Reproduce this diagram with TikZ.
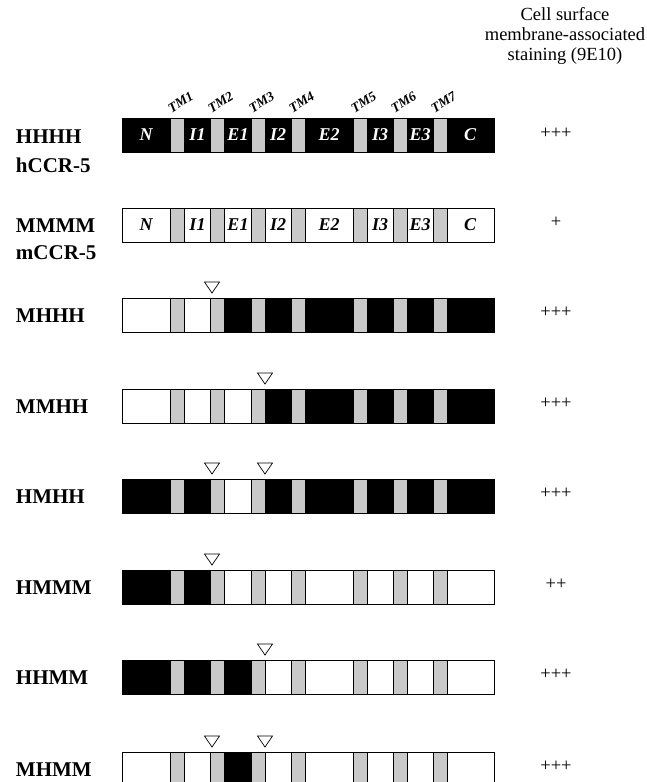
\documentclass[tikz,border=0pt]{standalone}
\usepackage{fontspec}
\setmainfont{Liberation Serif}
\usepackage{tikz}

\tikzset{
  tmbox/.style={fill=black!21, draw=black, line width=0.5pt},
  hbox/.style={fill=black, draw=black, line width=0.6pt},
  mbox/.style={fill=white, draw=black, line width=0.6pt},
  junction/.style={draw=black, fill=white, line width=0.7pt, line join=miter},
  rowlabel/.style={anchor=base west, font=\fontsize{21}{25}\selectfont\bfseries},
  score/.style={anchor=base, font=\fontsize{18.5}{20}\selectfont},
  domlabel/.style={font=\fontsize{18}{20}\selectfont\bfseries\itshape},
  tmlabel/.style={anchor=base west, rotate=32, font=\fontsize{13.5}{15}\selectfont\bfseries\itshape}
}

\begin{document}
\begin{tikzpicture}[x=1pt, y=-1pt, every node/.style={inner sep=0pt, outer sep=0pt}]
  \useasboundingbox (0,0) rectangle (647,782);

  % Header of the staining column
  \node[score] (head1) at (565,20) {Cell surface};
  \node[score] (head2) at (565,40) {membrane-associated};
  \node[score] (head3) at (565,60) {staining (9E10)};

  % Bars: human parts black, mouse parts white
  \draw[hbox] (122,118) rectangle (494,152);      % HHHH
  \draw[mbox] (122,208) rectangle (494,242);      % MMMM
  \draw[mbox] (122,298) rectangle (494,332);      % MHHH
  \fill (225,298) rectangle (494,332);
  \draw[mbox] (122,389) rectangle (494,423);      % MMHH
  \fill (265,389) rectangle (494,423);
  \draw[mbox] (122,479) rectangle (494,513);      % HMHH
  \fill (122,479) rectangle (210,513);
  \fill (265,479) rectangle (494,513);
  \draw[mbox] (122,570) rectangle (494,604);      % HMMM
  \fill (122,570) rectangle (210,604);
  \draw[mbox] (122,660) rectangle (494,694);      % HHMM
  \fill (122,660) rectangle (251,694);
  \draw[mbox] (122,752) rectangle (494,786);      % MHMM
  \fill (225,752) rectangle (251,786);

  % Transmembrane segments
  \foreach \y in {118,208,298,389,479,570,660,752}
    \foreach \a in {170,210,251,291,353,393,433}
      \draw[tmbox] (\a,\y) rectangle ++(14.5,34);

  \foreach \y in {118,208,298,389,479,570,660,752}
    \draw[line width=0.6pt] (122,\y) rectangle ++(372,34);

  % TM labels
  \foreach \a [count=\i] in {170,210,251,291,353,393,433}
    \node[tmlabel] (tm\i) at (\a+1.5,113) {TM\i};

  % Domain names
  \foreach \x/\d in {146/N, 197.5/I1, 238/E1, 278/I2, 329/E2, 380/I3, 420/E3, 470/C} {
    \node[domlabel, text=white] (h\d) at (\x,135) {\d};
    \node[domlabel] (m\d) at (\x,225) {\d};
  }

  % Junctions
  \foreach \x/\y in {212/298, 265/389, 212/479, 265/479, 212/570, 265/660, 212/752, 265/752}
    \draw[junction] (\x-7.5,\y-16) -- (\x+7.5,\y-16) -- (\x,\y-5) -- cycle;

  % Chimera names and staining
  \foreach \name/\y/\s [count=\i] in {HHHH/119/+++, MMMM/208/+, MHHH/298/+++, MMHH/389/+++,
      HMHH/479/+++, HMMM/570/++, HHMM/660/+++, MHMM/752/+++} {
    \node[rowlabel] (row\i) at (16,\y+24) {\name};
    \node[score] (score\i) at (556,\y+19) {\s};
  }
  \node[rowlabel] (hccr) at (16,172) {hCCR-5};
  \node[rowlabel] (mccr) at (16,259) {mCCR-5};

\end{tikzpicture}
\end{document}
